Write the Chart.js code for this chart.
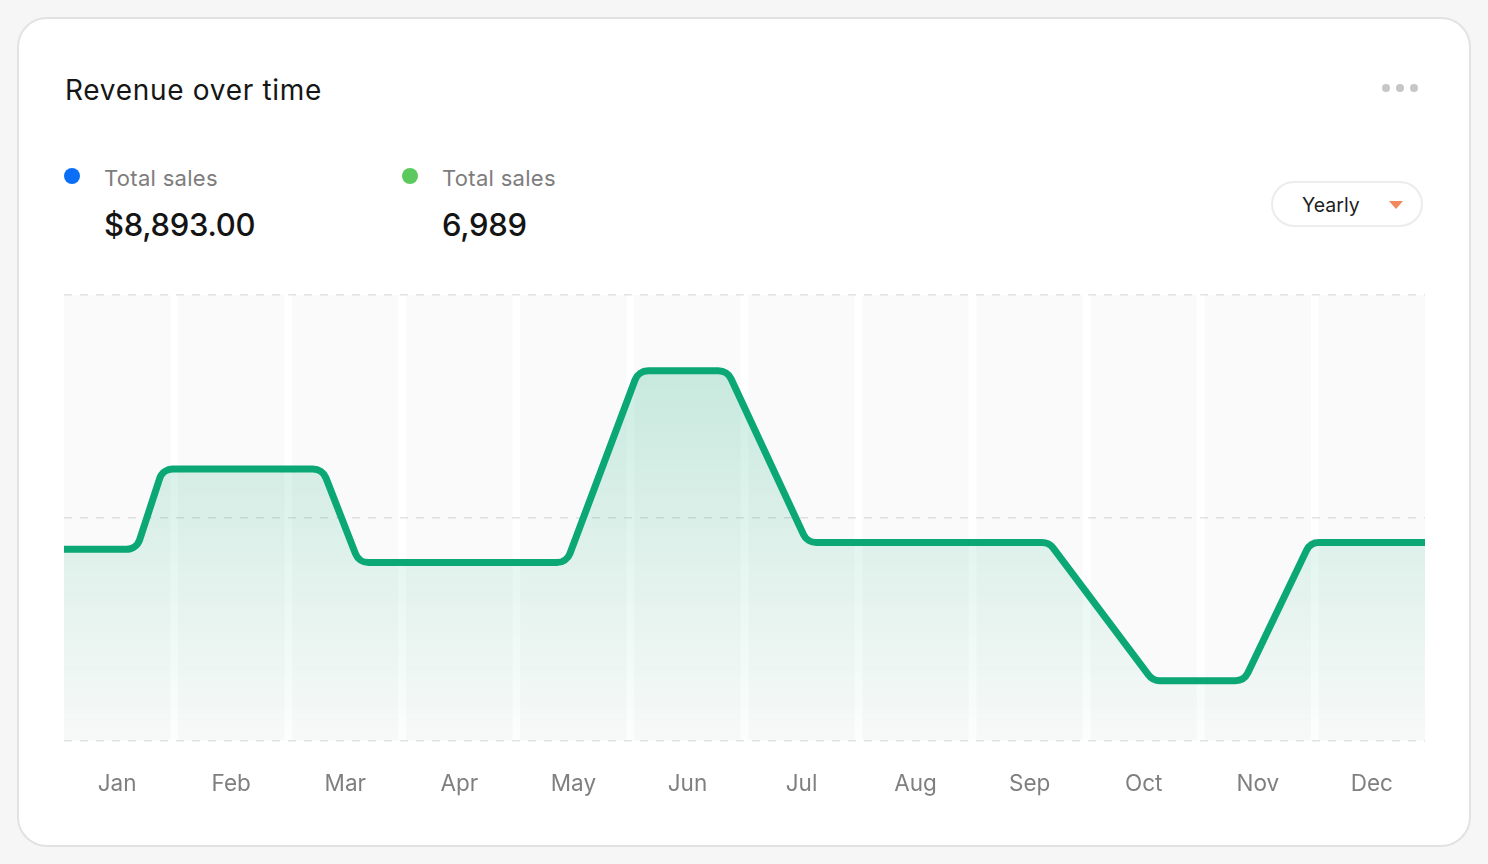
<!doctype html>
<html lang="en">
<head>
  <meta charset="utf-8">
  <title>Revenue over time</title>
  <script src="https://cdn.jsdelivr.net/npm/chart.js"></script>
  <style>
    html, body { margin: 0; height: 100%; background: #f6f6f6; font-family: Inter, "Noto Sans", sans-serif; }
    .card { position: absolute; left: 17px; top: 17px; width: 1454px; height: 830px; box-sizing: border-box;
            background: #fff; border: 2px solid #e2e2e2; border-radius: 30px; }
    .abs { position: absolute; line-height: 1; white-space: nowrap; }
    .title { left: 65px; top: 76px; font-size: 28px; letter-spacing: 0.7px; color: #161616; }
    .dot { position: absolute; width: 16px; height: 16px; border-radius: 50%; }
    .label { font-size: 22px; letter-spacing: 0.3px; color: #7d7d7d; top: 167px; }
    .value { font-size: 31px; font-weight: 500; color: #141414; top: 209px; letter-spacing: -0.3px; }
    .more { position: absolute; top: 84px; width: 8px; height: 8px; border-radius: 50%; background: #c6c6c6; }
    .select { position: absolute; left: 1271px; top: 181px; width: 152px; height: 46px; box-sizing: border-box;
              border: 2px solid #ececec; border-radius: 23px; background: #fff; }
    .select span { position: absolute; left: 29px; top: 13px; font-size: 19.5px; line-height: 1; color: #1e1e1e; }
    .caret { position: absolute; left: 116px; top: 18px; width: 0; height: 0;
             border-left: 7px solid transparent; border-right: 7px solid transparent; border-top: 8px solid #f4875c; }
    #wrap { position: absolute; left: 64px; top: 285px; width: 1361px; height: 552px; }
  </style>
</head>
<body>
  <div class="card"></div>
  <div class="abs title">Revenue over time</div>
  <div class="more" style="left:1382px"></div>
  <div class="more" style="left:1396px"></div>
  <div class="more" style="left:1410px"></div>

  <div class="dot" style="left:64px; top:168px; background:#0a6ff6"></div>
  <div class="abs label" style="left:104px">Total sales</div>
  <div class="abs value" style="left:104px">$8,893.00</div>
  <div class="dot" style="left:402px; top:168px; background:#5cc95e"></div>
  <div class="abs label" style="left:442px">Total sales</div>
  <div class="abs value" style="left:442px">6,989</div>

  <div class="select"><span>Yearly</span><i class="caret"></i></div>

  <div id="wrap"><canvas id="chart"></canvas></div>

  <script>
    const months = ['Jan', 'Feb', 'Mar', 'Apr', 'May', 'Jun', 'Jul', 'Aug', 'Sep', 'Oct', 'Nov', 'Dec'];
    // full-height background columns, one per month
    const columnTop = [100, 100, 100, 100, 100, 100, 100, 100, 100, 100, 100, 100];
    // line vertices: x in months (Jan = 0), y on a 0-100 scale
    const salesX = [-0.466, 0.17, 0.4, 1.8, 2.12, 3.94, 4.57, 5.35, 6.05, 8.17, 9.08, 9.88, 10.46, 11.466];
    const salesY = [43, 43, 61, 61, 40, 40, 83, 83, 44.5, 44.5, 13.5, 13.5, 44.5, 44.5];
    const gridLevels = [0, 50, 100];

    const lineColor = '#0ba875';

    function fillGradient(ctx) {
      const area = ctx.chart.chartArea;
      if (!area) return 'rgba(11,168,117,0.1)';
      const g = ctx.chart.ctx.createLinearGradient(0, area.top, 0, area.bottom);
      g.addColorStop(0, 'rgba(11,168,117,0.25)');
      g.addColorStop(1, 'rgba(11,168,117,0.01)');
      return g;
    }

    // strokes the sales line through the library's point positions with rounded corners
    const roundedLine = {
      id: 'roundedLine',
      afterDatasetsDraw(chart) {
        const pts = chart.getDatasetMeta(0).data;
        const c = chart.ctx;
        c.save();
        c.beginPath();
        c.moveTo(pts[0].x, pts[0].y);
        for (let i = 1; i < pts.length - 1; i++) {
          c.arcTo(pts[i].x, pts[i].y, pts[i + 1].x, pts[i + 1].y, 14);
        }
        c.lineTo(pts[pts.length - 1].x, pts[pts.length - 1].y);
        c.strokeStyle = lineColor;
        c.lineWidth = 7;
        c.lineJoin = 'round';
        c.stroke();
        c.restore();
      }
    };

    new Chart(document.getElementById('chart'), {
      type: 'bar',
      data: {
        datasets: [
          {
            type: 'line',
            data: salesX.map((x, i) => ({ x, y: salesY[i] })),
            borderColor: lineColor,
            borderWidth: 0,
            tension: 0,
            pointRadius: 0,
            fill: 'start',
            backgroundColor: fillGradient,
            order: 1
          },
          {
            type: 'bar',
            data: columnTop.map((y, i) => ({ x: i, y })),
            backgroundColor: 'rgba(0,0,0,0.02)',
            barPercentage: 0.934,
            categoryPercentage: 1,
            order: 2
          }
        ]
      },
      plugins: [roundedLine],
      options: {
        responsive: true,
        maintainAspectRatio: false,
        animation: false,
        layout: { padding: { top: 10, bottom: 9 } },
        plugins: { legend: { display: false }, tooltip: { enabled: false } },
        scales: {
          x: {
            type: 'linear',
            offset: false,
            min: -0.466, max: 11.466,
            grid: { display: false, drawTicks: false, offset: false },
            border: { display: false },
            afterBuildTicks: s => { s.ticks = months.map((m, i) => ({ value: i })); },
            ticks: {
              padding: 30, autoSkip: false, maxRotation: 0,
              color: '#7f7f7f',
              font: { family: 'Inter', size: 22.5 },
              callback: v => months[v]
            }
          },
          y: {
            min: 0, max: 100,
            afterBuildTicks: s => { s.ticks = gridLevels.map(v => ({ value: v })); },
            afterFit: s => { s.width = 0; },
            ticks: { display: false },
            grid: { color: '#e4e4e4', lineWidth: 1.5, drawTicks: false },
            border: { display: false, dash: [8, 8] }
          }
        }
      }
    });
  </script>
</body>
</html>
